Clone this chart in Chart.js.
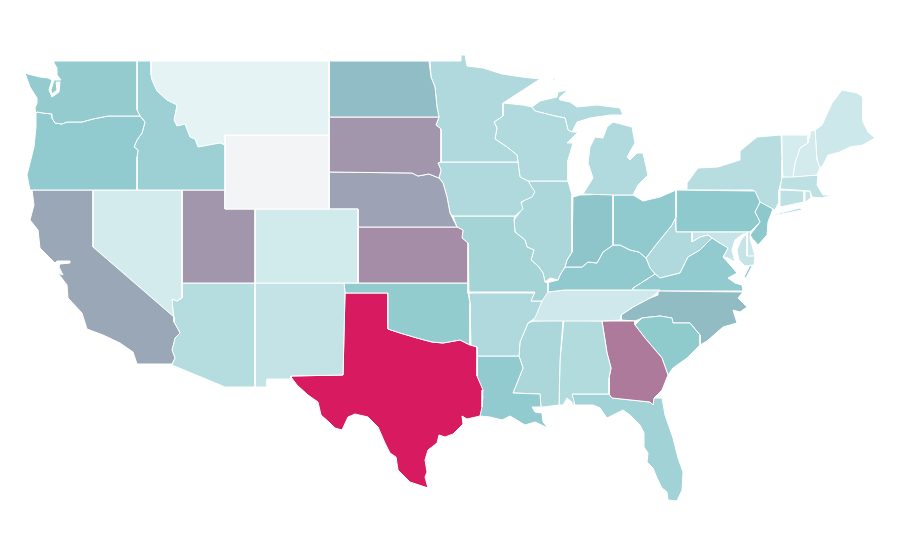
<!DOCTYPE html>
<html>
<head>
<meta charset="utf-8">
<title>US states</title>
<script src="https://cdn.jsdelivr.net/npm/chart.js@4/dist/chart.umd.min.js"></script>
<style>
html, body { margin: 0; padding: 0; background: #fff; }
canvas { display: block; }
</style>
</head>
<body>
<canvas id="myChartMapa" width="900" height="560"></canvas>
<script>
var stateNames = ['Washington','Oregon','California','Idaho','Nevada','Montana','Wyoming','Utah','Arizona','Colorado','New Mexico',
    'North Dakota','South Dakota','Nebraska','Kansas','Oklahoma','Texas','Minnesota','Iowa','Missouri','Arkansas','Louisiana',
    'Wisconsin','Illinois','Michigan','Indiana','Ohio','Kentucky','Tennessee','Mississippi','Alabama','Georgia','Florida',
    'South Carolina','North Carolina','Virginia','West Virginia','Maryland','Delaware','Pennsylvania','New Jersey','New York',
    'Vermont','New Hampshire','Maine','Massachusetts','Connecticut','Rhode Island'];

var stateValues = [46.6,47,59.5,41.7,15,6.8,0,64.5,30,16.5,23,
    53,64.5,61,67,46.5,100,33,33,38,33,47,
    32.5,35,32.5,51,48,48,18,35,31.5,72.5,40,
    48.5,53.5,47,33,22,19.5,49,50,29,
    14.5,15,18.5,26.5,26.5,23];

// outlines, in map units; one list of rings per state, same order as stateNames
var stateOutlines = [
    [[54,61,137,61,137,110,140,116,108,116,93,119,82,122,67,122,62,124,55,123,52,118,52,114,43,113,37,112,36,113,35,108,37,103,37,98,30,87,25,73,28,74,40,77,48,78,52,80,49,90,52,97,59,92,60,82,56,82,57,90,52,94,51,90,54,80,61,80,57,75,57,68,54,63]],
    [[36,113,37,112,43,113,52,114,52,118,55,123,62,124,67,122,82,122,93,119,108,116,140,116,145,122,142,133,137,140,134,147,138,150,137,157,137,190,30,190,27,175,34,147,36,127]],
    [[32,190,93,190,93,247,174,317,174,322,180,333,175,338,172,350,175,358,172,364,137,364,133,352,120,343,103,335,87,329,82,313,68,298,67,285,58,273,63,275,59,267,60,264,70,263,70,261,57,261,55,263,40,248,38,230,30,220,34,205]],
    [[137,61,151,61,151,75,152,80,157,91,167,100,177,105,174,120,177,126,185,124,190,137,195,139,198,147,220,143,225,145,225,190,137,190,137,157,138,150,134,147,137,140,142,133,145,122,140,116,137,110]],
    [[93,190,182,190,182,298,177,301,172,299,173,312,174,317,93,247]],
    [[151,61,329,61,329,135,225,135,225,145,220,143,198,147,195,139,190,137,185,124,177,126,174,120,177,105,167,100,157,91,152,80,151,75]],
    [[225,135,329,135,329,209,225,209]],
    [[182,190,225,190,225,209,255,209,255,283,182,283]],
    [[182,283,255,283,255,387,225,387,172,365,175,358,172,350,175,338,180,333,174,322,173,312,172,299,177,301,182,298]],
    [[255,209,358,209,358,283,255,283]],
    [[255,283,344,283,345,293,343,375,291,376,291,379,267,379,267,387,255,387]],
    [[329,61,429,61,431,77,435,87,437,107,439,117,329,117]],
    [[329,117,439,117,436,125,441,129,441,162,438,163,441,170,439,178,429,174,418,176,412,173,329,172]],
    [[329,172,412,173,418,176,429,174,439,178,443,183,447,197,450,213,457,227,358,227,358,209,329,209]],
    [[358,227,457,227,463,230,462,238,468,243,468,283,358,283]],
    [[344,283,468,283,468,293,470,303,470,345,460,340,443,343,432,342,417,338,400,333,388,329,388,293,345,293]],
    [[345,293,388,293,388,329,400,333,417,338,432,342,443,343,460,340,470,345,477,347,477,376,483,390,482,407,480,416,467,419,462,416,463,424,453,434,445,437,439,435,437,443,428,450,425,460,427,472,425,477,428,488,410,482,398,470,396,457,390,453,385,443,378,427,368,417,355,414,348,417,342,430,335,428,330,423,321,415,318,402,308,395,297,385,291,377,291,376,343,375]],
    [[430,61,461,61,461,55,465,55,467,66,483,68,502,74,522,77,540,79,520,92,503,103,503,116,494,122,497,128,495,139,507,147,517,155,518,162,441,162,441,129,436,125,439,117,437,107,435,87,431,77]],
    [[441,162,518,162,520,177,528,181,535,192,532,197,521,202,523,209,515,216,453,216,450,213,447,197,443,183,439,178,441,170,438,163]],
    [[453,216,515,216,514,220,515,232,525,240,527,247,534,250,531,260,538,266,543,273,545,282,548,283,548,292,542,301,531,301,535,292,469,292,468,243,462,238,463,230,457,227]],
    [[469,293,535,293,531,301,542,301,535,318,528,323,520,342,519,356,477,356,477,347,471,345,470,303]],
    [[477,356,519,356,523,368,513,393,540,394,541,407,532,407,535,412,542,413,543,422,548,428,535,422,525,425,510,416,502,420,490,417,480,416,483,397,477,377]],
    [[503,103,523,105,532,107,535,111,555,116,565,118,568,130,572,132,578,132,567,143,573,143,568,160,568,181,528,181,520,177,518,162,517,155,507,147,495,139,497,128,494,122,503,116]],
    [[528,181,568,181,572,195,572,252,567,260,565,267,560,275,558,280,550,278,545,282,543,273,538,266,531,260,534,250,527,247,525,240,515,232,514,220,520,212,522,202,534,193]],
    [[532,107,540,101,557,97,558,92,568,90,560,97,560,100,570,102,577,107,597,105,620,108,623,115,610,115,590,118,577,122,572,132,568,130,565,118,555,116,535,111],
     [613,122,632,127,635,143,627,157,630,160,637,153,643,153,648,175,638,185,633,195,613,195,583,194,593,178,588,163,590,147,595,137,603,138,607,127],
     [550,81,555,78,556,79,552,81]],
    [[573,197,580,195,613,194,613,245,603,252,597,263,588,262,582,267,575,267,565,267,567,260,572,252]],
    [[613,195,633,195,643,201,660,197,676,190,676,217,672,225,655,246,646,258,639,252,630,250,620,245,613,245]],
    [[565,267,575,267,582,267,588,262,597,263,603,252,613,245,620,245,630,250,639,252,646,258,650,268,655,274,633,288,632,290,565,290,548,292,548,283,550,282,558,280,560,275]],
    [[543,292,548,292,565,290,632,290,660,290,652,297,650,298,633,307,621,315,621,320,602,321,534,321,533,316,540,302]],
    [[534,321,563,320,560,360,559,405,543,407,541,407,540,394,513,393,523,368,519,356,520,342,528,323]],
    [[564,320,602,321,607,353,611,368,609,378,609,394,572,394,575,405,567,398,563,405,559,405,560,360]],
    [[602,321,635,321,635,325,645,338,662,358,668,375,662,390,654,398,653,405,650,402,612,398,609,394,609,378,611,368,607,353]],
    [[572,394,609,394,612,398,650,402,653,405,653,398,662,398,665,415,673,438,678,458,683,472,682,490,677,501,668,500,667,492,662,488,657,478,653,468,647,462,648,453,644,447,644,433,640,425,630,415,623,410,617,413,607,418,600,408,593,405,572,405]],
    [[635,325,642,318,660,316,672,318,673,323,690,323,700,335,700,345,687,358,673,368,668,375,662,358,645,338]],
    [[658,291,743,292,738,298,747,307,740,312,733,310,737,323,723,327,707,341,700,345,700,335,690,323,673,323,672,318,660,316,642,318,635,321,621,320,621,315,633,307,650,298,658,295]],
    [[632,290,658,291,743,291,742,285,735,283,728,278,737,273,732,267,723,257,728,248,718,242,712,238,700,250,688,257,680,273,660,278,655,274,633,288],
     [744,277,750,265,752,266,746,278]],
    [[646,258,655,246,672,225,675,217,676,232,692,232,692,242,700,237,708,235,712,238,700,250,688,257,680,273,660,278,655,274,650,268]],
    [[692,232,747,232,747,256,755,256,754,265,745,266,739,260,737,250,741,240,746,234,743,234,735,240,732,250,735,262,728,258,723,257,728,248,718,242,712,238,708,235,700,237,692,242]],
    [[747,232,751,232,750,238,755,256,747,257]],
    [[676,190,755,191,760,202,755,212,760,222,750,232,676,232]],
    [[760,202,773,209,768,222,767,235,758,245,752,238,750,235,760,222,755,212]],
    [[687,190,687,183,698,168,718,167,740,160,740,151,757,137,781,135,782,160,782,178,779,190,779,202,775,210,757,202,753,190],
     [772,215,800,208,802,210,777,215]],
    [[782,135,808,135,808,143,800,148,795,163,793,177,783,177,782,160]],
    [[811,131,815,130,817,160,820,168,817,175,793,177,795,163,800,148,808,143]],
    [[815,130,822,125,832,103,842,90,857,93,863,97,863,122,868,132,875,138,863,145,850,147,840,152,828,155,823,165,820,168,817,160]],
    [[782,177,818,175,817,185,823,195,832,195,822,198,812,197,810,191,780,189]],
    [[780,190,804,191,804,202,780,207]],
    [[805,191,810,191,811,198,805,202]]
];

// color scale of the map: low value grey, then pale teal, middle teal, top crimson
var scaleStops = [0, 7, 50, 100];
var scaleColors = [[243,244,246], [229,243,245], [140,200,204], [216,27,96]];

function colorForValue(v) {
    var i = 0;
    while (i < scaleStops.length - 2 && v > scaleStops[i + 1]) { i++; }
    var t = (v - scaleStops[i]) / (scaleStops[i + 1] - scaleStops[i]);
    var a = scaleColors[i], b = scaleColors[i + 1];
    return 'rgb(' + Math.round(a[0] + (b[0] - a[0]) * t) + ',' + Math.round(a[1] + (b[1] - a[1]) * t) + ',' + Math.round(a[2] + (b[2] - a[2]) * t) + ')';
}

function initializeChartMapa() {
    var ctx = document.getElementById('myChartMapa').getContext('2d');
    var datasets = [];
    stateNames.forEach(function (name, s) {
        stateOutlines[s].forEach(function (ring) {
            var pts = [];
            for (var i = 0; i < ring.length; i += 2) {
                pts.push({ x: ring[i], y: ring[i + 1] });
            }
            pts.push({ x: ring[0], y: ring[1] });
            datasets.push({
                label: name,
                data: pts,
                showLine: true,
                fill: 'shape',
                tension: 0,
                backgroundColor: colorForValue(stateValues[s]),
                borderColor: '#ffffff',
                borderWidth: 1,
                pointRadius: 0,
                pointHoverRadius: 0,
                clip: false
            });
        });
    });
    new Chart(ctx, {
        type: 'scatter',
        data: { datasets: datasets },
        options: {
            responsive: false,
            animation: false,
            layout: { padding: 0 },
            plugins: { legend: { display: false }, tooltip: { enabled: false } },
            scales: {
                x: { type: 'linear', display: false, min: 0, max: 900 },
                y: { type: 'linear', display: false, min: 0, max: 560, reverse: true }
            }
        }
    });
}
initializeChartMapa();
</script>
</body>
</html>
